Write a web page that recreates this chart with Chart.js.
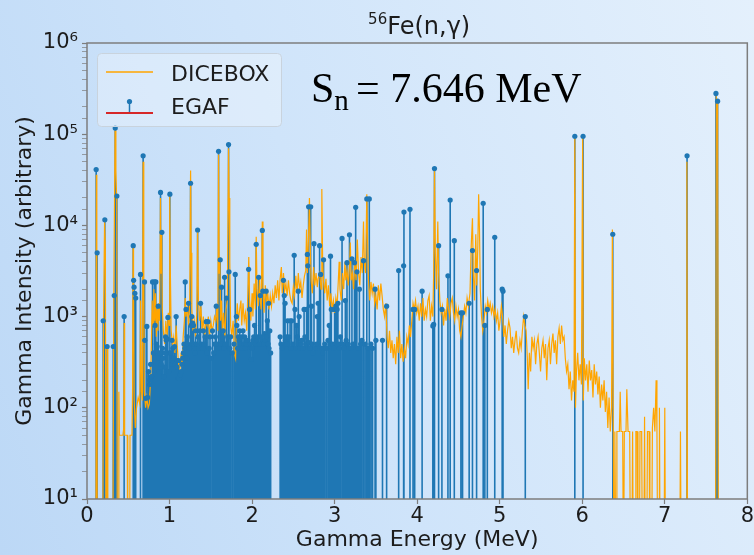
<!DOCTYPE html>
<html>
<head>
<meta charset="utf-8">
<script src="https://cdn.jsdelivr.net/npm/chart.js@4.4.1/dist/chart.umd.min.js"></script>
<style>
  html, body { margin: 0; padding: 0; }
  body {
    width: 754px; height: 555px; overflow: hidden;
    background: linear-gradient(70deg, #bcd8f6 0%, #cfe4fa 45%, #e4f0fc 100%);
  }
  #wrap { position: relative; width: 754px; height: 555px; }
</style>
</head>
<body>
<div id="wrap"><canvas id="chart" width="754" height="555"></canvas></div>
<script>
// --- Axis text ---
const xTickValues = [0, 1, 2, 3, 4, 5, 6, 7, 8];
const yTickLabels = ['10¹', '10²', '10³', '10⁴', '10⁵', '10⁶'];
const xAxisTitle = 'Gamma Energy (MeV)';
const yAxisTitle = 'Gamma Intensity (arbitrary)';
const seriesNames = ['DICEBOX', 'EGAF'];

// value used to send a line below the bottom of the log axis
const FLOOR = 1;

// --- DICEBOX spectrum [energy MeV, intensity] ---
const diceboxLow = [
  [0.090, 1], [0.108, 1], [0.113, 36000], [0.119, 4000], [0.125, 1],
  [0.190, 1], [0.200, 900], [0.213, 11000], [0.222, 6000], [0.232, 1],
  [0.240, 1], [0.246, 470], [0.252, 1],
  [0.312, 1], [0.325, 1800], [0.340, 110000], [0.350, 40000], [0.360, 19000], [0.368, 1],
  [0.380, 1], [0.386, 150], [0.392, 50], [0.435, 50], [0.445, 60], [0.450, 850], [0.456, 50],
  [0.488, 50], [0.494, 1], [0.515, 1], [0.521, 50], [0.545, 50], [0.552, 150], [0.558, 6000],
  [0.564, 2000], [0.572, 120], [0.585, 60],
];

const diceboxMid = [
  [0.600, 100], [0.620, 130], [0.640, 110], [0.650, 1500], [0.660, 150], [0.672, 120],
  [0.680, 50000], [0.688, 3000], [0.695, 150], [0.710, 100], [0.725, 130], [0.740, 100],
  [0.755, 110], [0.770, 200], [0.780, 500], [0.790, 1500], [0.800, 800], [0.810, 2000],
  [0.820, 900], [0.830, 1800], [0.840, 600], [0.850, 1200], [0.860, 700], [0.870, 1400],
  [0.880, 900], [0.890, 20000], [0.897, 3000], [0.905, 8000], [0.912, 1200], [0.925, 700],
  [0.940, 500], [0.955, 900], [0.970, 600], [0.985, 1100], [0.995, 800], [1.002, 21000],
  [1.010, 3000], [1.020, 700], [1.035, 500], [1.050, 600], [1.065, 400], [1.080, 800],
  [1.095, 450], [1.110, 300], [1.125, 260], [1.140, 400], [1.150, 280], [1.165, 600],
  [1.180, 900], [1.190, 1600], [1.200, 1000], [1.215, 1300], [1.230, 800], [1.245, 1500],
  [1.255, 40000], [1.262, 5000], [1.270, 1200], [1.285, 700], [1.300, 900], [1.315, 600],
  [1.330, 1100], [1.340, 9000], [1.350, 1500], [1.365, 900], [1.380, 1300], [1.395, 700],
  [1.410, 1000], [1.425, 600], [1.440, 900], [1.455, 800], [1.470, 1000], [1.485, 600],
  [1.500, 900], [1.515, 700], [1.530, 800], [1.545, 1000], [1.560, 900], [1.575, 1300],
  [1.585, 700], [1.594, 60000], [1.602, 3000], [1.610, 4500], [1.618, 900], [1.630, 1500],
  [1.640, 700], [1.655, 1100], [1.670, 600], [1.685, 1200], [1.700, 1500], [1.715, 70000],
  [1.722, 20000], [1.730, 4000], [1.740, 800], [1.755, 600], [1.770, 900], [1.785, 400],
  [1.800, 350], [1.810, 900], [1.820, 1400], [1.835, 900], [1.850, 1200], [1.865, 1500],
  [1.875, 800], [1.890, 1400], [1.905, 900], [1.920, 1100], [1.935, 700], [1.950, 2000],
  [1.960, 4500], [1.970, 1500], [1.985, 900], [2.000, 1800], [2.010, 1000], [2.025, 2300],
  [2.040, 1200], [2.050, 7500], [2.060, 2000], [2.075, 1300], [2.090, 2600], [2.100, 1500],
  [2.110, 1200], [2.124, 11000], [2.132, 2000], [2.145, 1100], [2.160, 2200], [2.175, 1400],
  [2.190, 1800], [2.205, 1200], [2.220, 1700], [2.235, 1300], [2.250, 1800], [2.265, 1400],
  [2.280, 2200], [2.295, 1600], [2.310, 2500], [2.325, 1500], [2.340, 2600], [2.355, 3500],
  [2.365, 1800], [2.380, 3000], [2.395, 1900], [2.410, 2300], [2.425, 1700], [2.440, 2500],
  [2.455, 1800], [2.470, 1500], [2.485, 1400], [2.500, 2100], [2.515, 1700], [2.530, 2800],
  [2.545, 1800], [2.560, 3000], [2.575, 2000], [2.590, 2400], [2.605, 1600], [2.620, 2200],
  [2.635, 2800], [2.650, 3200], [2.660, 9000], [2.670, 3000], [2.685, 8000], [2.695, 20000],
  [2.705, 6000], [2.715, 2500], [2.730, 1800], [2.745, 3500], [2.760, 2200], [2.775, 3000],
  [2.790, 2100], [2.800, 2600], [2.820, 3000], [2.835, 2000], [2.845, 25000], [2.855, 4000],
  [2.865, 2500], [2.880, 1800], [2.895, 2600], [2.910, 1500], [2.925, 2200], [2.940, 1300],
  [2.955, 1800], [2.970, 1200], [2.985, 1500], [3.000, 1100], [3.015, 1600], [3.030, 1300],
  [3.045, 2500], [3.055, 4000], [3.065, 2000], [3.080, 1500], [3.095, 3000], [3.110, 2000],
  [3.125, 4000], [3.135, 2500], [3.150, 3200], [3.165, 2200], [3.180, 3500], [3.190, 6500],
  [3.200, 2500], [3.215, 3000], [3.230, 2000], [3.245, 4000], [3.260, 2500], [3.275, 7000],
  [3.290, 3000], [3.305, 2200], [3.320, 4500], [3.335, 3000], [3.350, 11000], [3.360, 4000],
  [3.375, 3000], [3.390, 22000], [3.398, 8000], [3.410, 2500], [3.425, 1500], [3.440, 2400],
  [3.455, 1800], [3.470, 2300], [3.485, 1400], [3.500, 1700], [3.515, 1200], [3.530, 2200],
  [3.545, 1500], [3.560, 2300], [3.575, 1700], [3.590, 1200], [3.605, 1000], [3.620, 1400],
  [3.635, 600], [3.650, 450], [3.665, 700], [3.680, 400], [3.695, 550], [3.710, 350],
  [3.725, 500], [3.740, 300], [3.755, 600], [3.770, 400], [3.785, 700], [3.800, 350],
  [3.815, 500], [3.830, 320], [3.845, 450], [3.860, 350], [3.875, 600], [3.890, 500],
  [3.905, 800], [3.920, 600], [3.935, 900], [3.950, 1400], [3.965, 1200], [3.980, 1500],
  [3.995, 1100], [4.010, 1300], [4.025, 900], [4.040, 1400], [4.055, 1000], [4.070, 1600],
  [4.085, 900], [4.100, 1200], [4.115, 1000], [4.130, 1500], [4.145, 1700], [4.160, 900],
  [4.175, 1300], [4.190, 1000], [4.200, 3000], [4.210, 40000], [4.220, 5000], [4.235, 2000],
  [4.250, 11000], [4.260, 3000], [4.275, 1500], [4.290, 1100], [4.305, 1300], [4.320, 800],
  [4.335, 1200], [4.350, 900], [4.365, 1600], [4.380, 1200], [4.395, 1000], [4.410, 1400],
  [4.425, 1600], [4.440, 1100], [4.455, 900], [4.470, 1300], [4.485, 1000], [4.500, 1200],
  [4.515, 700], [4.530, 600], [4.545, 800], [4.560, 1000], [4.575, 1300], [4.590, 1100],
  [4.605, 1600], [4.620, 1300], [4.640, 1800], [4.655, 6000], [4.670, 12000], [4.680, 3000],
  [4.695, 1500], [4.710, 8000], [4.722, 2200], [4.735, 6000], [4.745, 22000], [4.755, 9000],
  [4.765, 2000], [4.780, 1000], [4.795, 700], [4.810, 900], [4.825, 1300], [4.840, 1100],
  [4.855, 1500], [4.870, 1200], [4.885, 1400], [4.900, 1100], [4.915, 1300], [4.930, 1000],
  [4.945, 1200], [4.960, 900], [4.975, 1100], [4.990, 700], [5.005, 900], [5.020, 1300],
  [5.035, 1000], [5.050, 600], [5.065, 800], [5.080, 500], [5.095, 700], [5.110, 900],
  [5.125, 750], [5.140, 450], [5.155, 600], [5.170, 400], [5.185, 550], [5.200, 700],
  [5.215, 450], [5.230, 400], [5.245, 550], [5.260, 450], [5.275, 700], [5.290, 1000],
  [5.305, 800],
];

const diceboxHigh = [
  [5.320, 700], [5.335, 350], [5.345, 160], [5.360, 400], [5.375, 250], [5.390, 600],
  [5.405, 450], [5.420, 550], [5.435, 300], [5.450, 500], [5.465, 600], [5.480, 400],
  [5.495, 250], [5.510, 450], [5.525, 550], [5.540, 350], [5.555, 500], [5.570, 200],
  [5.585, 450], [5.600, 550], [5.615, 300], [5.630, 500], [5.645, 650], [5.660, 400],
  [5.675, 550], [5.690, 300], [5.705, 600], [5.720, 750], [5.735, 500], [5.750, 800],
  [5.765, 550], [5.780, 600], [5.795, 350], [5.810, 250], [5.825, 300], [5.840, 160],
  [5.855, 250], [5.870, 120], [5.885, 200], [5.900, 150], [5.910, 90000], [5.918, 100],
  [5.930, 250], [5.945, 400], [5.960, 200], [5.975, 300], [5.990, 180], [6.005, 90000],
  [6.013, 120], [6.025, 350], [6.040, 200], [6.055, 300], [6.070, 150], [6.085, 330],
  [6.100, 200], [6.115, 260], [6.130, 130], [6.145, 300], [6.160, 180], [6.175, 250],
  [6.190, 140], [6.205, 220], [6.220, 100], [6.235, 180], [6.250, 120], [6.265, 200],
  [6.280, 90], [6.295, 150], [6.310, 60], [6.325, 130], [6.340, 55], [6.355, 100],
  [6.365, 9000], [6.375, 100], [6.385, 1], [6.395, 55], [6.410, 1], [6.420, 55],
  [6.450, 55], [6.460, 150], [6.470, 55], [6.490, 55], [6.500, 1], [6.510, 55],
  [6.530, 55], [6.540, 160], [6.555, 55], [6.575, 55], [6.585, 1], [6.600, 1],
  [6.610, 55], [6.620, 1], [6.640, 1], [6.650, 55], [6.665, 55], [6.675, 1],
  [6.690, 1], [6.700, 55], [6.720, 55], [6.730, 1], [6.745, 1], [6.755, 80],
  [6.765, 1], [6.780, 1], [6.790, 55], [6.810, 55], [6.820, 1], [6.840, 1],
  [6.850, 60], [6.865, 100], [6.880, 55], [6.895, 200], [6.905, 60], [6.915, 1],
  [6.930, 1], [6.935, 100], [6.945, 1], [6.990, 1], [7.000, 100], [7.010, 1],
  [7.180, 1], [7.190, 55], [7.200, 1], [7.260, 1], [7.268, 50000], [7.276, 1],
  [7.615, 1], [7.625, 250000], [7.640, 220000], [7.650, 1], [7.700, 1],
];

// --- EGAF lines [energy MeV, intensity] ---
const egafLines = [
  [0.111, 41000], [0.123, 5000], [0.196, 900], [0.216, 11500], [0.244, 470], [0.318, 470],
  [0.330, 1700], [0.342, 117000], [0.362, 21000], [0.450, 1000], [0.560, 6000], [0.565, 2500],
  [0.570, 2100], [0.580, 1800], [0.590, 1600], [0.648, 2900], [0.680, 58000], [0.697, 2400],
  [0.700, 550], [0.713, 127], [0.725, 780], [0.735, 130], [0.745, 250], [0.755, 180],
  [0.760, 200], [0.770, 300], [0.780, 220], [0.794, 2400], [0.805, 400], [0.818, 2400],
  [0.825, 800], [0.834, 2400], [0.840, 500], [0.850, 470], [0.863, 1300], [0.870, 350],
  [0.875, 250], [0.880, 400], [0.891, 23000], [0.900, 300], [0.907, 8400], [0.915, 450],
  [0.920, 350], [0.931, 220], [0.940, 280], [0.945, 400], [0.952, 600], [0.960, 550],
  [0.970, 570], [0.980, 980], [0.990, 250], [1.000, 400], [1.004, 22000], [1.015, 400],
  [1.025, 300], [1.030, 550], [1.040, 450], [1.050, 350], [1.060, 470], [1.070, 300],
  [1.080, 1000], [1.090, 280], [1.095, 330], [1.105, 210], [1.110, 330], [1.120, 210],
  [1.130, 230], [1.140, 250], [1.150, 300], [1.160, 350], [1.168, 400], [1.175, 500],
  [1.185, 450], [1.190, 2400], [1.200, 1200], [1.208, 350], [1.215, 600], [1.222, 500],
  [1.230, 1400], [1.240, 450], [1.255, 29000], [1.262, 800], [1.270, 1000], [1.280, 850],
  [1.290, 800], [1.300, 500], [1.308, 400], [1.315, 700], [1.325, 500], [1.340, 8900],
  [1.345, 600], [1.355, 450], [1.365, 700], [1.376, 1400], [1.390, 500], [1.400, 450],
  [1.410, 700], [1.420, 500], [1.430, 600], [1.445, 880], [1.455, 400], [1.465, 880],
  [1.480, 450], [1.490, 600], [1.500, 350], [1.520, 700], [1.535, 400], [1.545, 500],
  [1.555, 600], [1.566, 1300], [1.580, 500], [1.594, 65000], [1.605, 450], [1.614, 4200],
  [1.625, 500], [1.630, 2100], [1.640, 600], [1.650, 700], [1.660, 450], [1.667, 2700],
  [1.675, 500], [1.690, 1600], [1.705, 600], [1.715, 77000], [1.720, 3100], [1.730, 450],
  [1.740, 600], [1.760, 400], [1.780, 500], [1.796, 2900], [1.810, 1000], [1.815, 800],
  [1.825, 450], [1.835, 600], [1.845, 550], [1.850, 700], [1.860, 500], [1.870, 600],
  [1.880, 450], [1.890, 700], [1.900, 500], [1.910, 600], [1.920, 450], [1.930, 500],
  [1.940, 550], [1.958, 3300], [1.970, 1200], [1.980, 500], [1.990, 340], [2.000, 450],
  [2.010, 550], [2.020, 600], [2.030, 800], [2.040, 500], [2.050, 6200], [2.060, 550],
  [2.070, 600], [2.080, 2700], [2.090, 500], [2.100, 1700], [2.110, 600], [2.124, 8800],
  [2.130, 1900], [2.140, 500], [2.150, 650], [2.160, 550], [2.170, 1900], [2.175, 600],
  [2.185, 900], [2.195, 500], [2.200, 1400], [2.205, 450], [2.215, 700], [2.225, 400],
  [2.340, 600], [2.350, 500], [2.365, 450], [2.380, 2500], [2.390, 1700], [2.400, 1400],
  [2.405, 550], [2.415, 600], [2.425, 500], [2.430, 900], [2.445, 600], [2.460, 900],
  [2.470, 450], [2.480, 900], [2.495, 500], [2.510, 4700], [2.520, 1200], [2.530, 450],
  [2.540, 800], [2.550, 600], [2.560, 1900], [2.570, 1000], [2.580, 450], [2.590, 500],
  [2.600, 550], [2.615, 450], [2.630, 1200], [2.640, 600], [2.650, 500], [2.660, 1200],
  [2.670, 4800], [2.675, 3600], [2.685, 16000], [2.690, 520], [2.700, 450], [2.710, 16000],
  [2.720, 1300], [2.730, 500], [2.740, 400], [2.750, 6300], [2.765, 450], [2.780, 500],
  [2.790, 1000], [2.800, 1400], [2.818, 6000], [2.830, 2900], [2.845, 450], [2.855, 400],
  [2.866, 4200], [2.880, 500], [2.900, 450], [2.920, 550], [2.935, 800], [2.950, 4600],
  [2.960, 1200], [2.975, 500], [2.990, 450], [3.000, 1200], [3.015, 1300], [3.030, 1200],
  [3.040, 1400], [3.050, 500], [3.060, 450], [3.070, 600], [3.090, 7200], [3.100, 500],
  [3.115, 450], [3.130, 1500], [3.140, 550], [3.150, 3900], [3.165, 500], [3.180, 7900],
  [3.195, 450], [3.210, 4300], [3.225, 500], [3.240, 3900], [3.255, 15800], [3.270, 3100],
  [3.285, 450], [3.300, 2000], [3.315, 500], [3.330, 550], [3.350, 4100], [3.370, 500],
  [3.390, 19500], [3.405, 450], [3.420, 19500], [3.440, 500], [3.460, 450], [3.490, 2000],
  [3.500, 550], [3.580, 550], [3.630, 1300], [3.776, 3200], [3.836, 3600], [3.840, 14000],
  [3.913, 15000], [3.950, 1200], [3.970, 1200], [4.060, 1900], [4.190, 790], [4.200, 820],
  [4.210, 42000], [4.260, 6000], [4.300, 1200], [4.373, 2800], [4.400, 19000], [4.450, 6800],
  [4.530, 1100], [4.550, 1100], [4.630, 1400], [4.670, 5300], [4.720, 3200], [4.800, 17500],
  [4.820, 800], [4.850, 1200], [4.940, 7400], [5.030, 2000], [5.040, 1900], [5.310, 1000],
  [5.910, 95000], [6.010, 95000], [6.370, 8000], [7.270, 58000], [7.620, 280000], [7.640, 230000],
];

const ORANGE = '#ffa500';
const BLUE = '#1f77b4';
const RED = '#d62728';
const TEXT = '#1c1c1c';
const FRAME = '#7d7d7d';

// --- Build datasets ---
const diceboxPoints = [...diceboxLow, ...diceboxMid, ...diceboxHigh].map(([x, y]) => ({ x, y }));

const egafSorted = [...egafLines].sort((a, b) => a[0] - b[0]);
const stemPoints = [];
for (const [x, y] of egafSorted) {
  stemPoints.push({ x, y: FLOOR }, { x, y }, { x, y: null });
}
const markerPoints = egafSorted.map(([x, y]) => ({ x, y }));

function yTickLabel(v) {
  const e = Math.round(Math.log10(v));
  if (Math.abs(v - Math.pow(10, e)) > 1e-6 * v) return '';
  return yTickLabels[e - 1] || '';
}

// --- Frame, title, annotation and legend ---
const decor = {
  id: 'decor',
  afterDraw(chart) {
    const { ctx, chartArea: a } = chart;
    ctx.save();

    // axes frame
    ctx.strokeStyle = FRAME;
    ctx.lineWidth = 1.5;
    ctx.strokeRect(a.left, a.top, a.right - a.left, a.bottom - a.top);

    // title: 56Fe(n,γ)
    ctx.fillStyle = TEXT;
    ctx.textBaseline = 'alphabetic';
    ctx.textAlign = 'left';
    const cx = (a.left + a.right) / 2 + 2;
    ctx.font = '15px "DejaVu Sans"';
    const supW = ctx.measureText('56').width;
    ctx.font = '24px "DejaVu Sans"';
    const mainW = ctx.measureText('Fe(n,γ)').width;
    const tx = cx - (supW + mainW) / 2;
    ctx.fillText('Fe(n,γ)', tx + supW, 34);
    ctx.font = '15px "DejaVu Sans"';
    ctx.fillText('56', tx, 24);

    // S_n = 7.646 MeV
    ctx.fillStyle = '#000';
    ctx.font = '42px "Liberation Serif"';
    ctx.fillText('S', 311, 102);
    const sW = ctx.measureText('S').width;
    ctx.font = '29px "Liberation Serif"';
    ctx.fillText('n', 311 + sW, 110);
    ctx.font = '42px "Liberation Serif"';
    ctx.fillText('= 7.646 MeV', 356, 102);

    // legend box
    ctx.beginPath();
    ctx.roundRect(97.5, 53.5, 184, 73, 4);
    ctx.fillStyle = 'rgba(255,255,255,0.3)';
    ctx.fill();
    ctx.strokeStyle = '#c9d3dd';
    ctx.lineWidth = 1;
    ctx.stroke();

    // DICEBOX entry
    ctx.strokeStyle = ORANGE;
    ctx.lineWidth = 1.5;
    ctx.beginPath();
    ctx.moveTo(106, 72);
    ctx.lineTo(153, 72);
    ctx.stroke();

    // EGAF entry (stem with baseline)
    ctx.strokeStyle = RED;
    ctx.lineWidth = 2;
    ctx.beginPath();
    ctx.moveTo(106, 113);
    ctx.lineTo(153, 113);
    ctx.stroke();
    ctx.strokeStyle = BLUE;
    ctx.lineWidth = 1.5;
    ctx.beginPath();
    ctx.moveTo(129.5, 112);
    ctx.lineTo(129.5, 102);
    ctx.stroke();
    ctx.fillStyle = BLUE;
    ctx.beginPath();
    ctx.arc(129.5, 101.5, 2.6, 0, Math.PI * 2);
    ctx.fill();

    ctx.fillStyle = TEXT;
    ctx.font = '22px "DejaVu Sans"';
    ctx.fillText(seriesNames[0], 171, 81);
    ctx.fillText(seriesNames[1], 171, 114);

    ctx.restore();
  },
};

new Chart(document.getElementById('chart'), {
  type: 'line',
  data: {
    datasets: [
      {
        label: seriesNames[1] + ' markers',
        data: markerPoints,
        showLine: false,
        pointRadius: 2.6,
        pointBackgroundColor: BLUE,
        pointBorderWidth: 0,
        order: 0,
      },
      {
        label: seriesNames[0],
        data: diceboxPoints,
        borderColor: ORANGE,
        borderWidth: 1.2,
        pointRadius: 0,
        tension: 0,
        order: 1,
      },
      {
        label: seriesNames[1],
        data: stemPoints,
        borderColor: BLUE,
        borderWidth: 1.6,
        pointRadius: 0,
        spanGaps: false,
        order: 2,
      },
    ],
  },
  options: {
    responsive: false,
    animation: false,
    devicePixelRatio: 1,
    layout: { padding: { top: 43, right: 6, left: 0, bottom: 0 } },
    plugins: {
      legend: { display: false },
      title: { display: false },
      tooltip: { enabled: false },
    },
    scales: {
      x: {
        type: 'linear',
        min: 0,
        max: 8,
        afterBuildTicks: (axis) => { axis.ticks = xTickValues.map(v => ({ value: v })); },
        ticks: {
          color: TEXT,
          font: { family: 'DejaVu Sans', size: 21 },
          padding: 0,
          maxRotation: 0,
          autoSkip: false,
        },
        grid: { drawOnChartArea: false, drawTicks: true, tickLength: 5, color: FRAME, tickWidth: 1.2 },
        border: { display: false },
        title: {
          display: true,
          text: xAxisTitle,
          color: TEXT,
          font: { family: 'DejaVu Sans', size: 22 },
          padding: { top: 0, bottom: 2 },
        },
        afterFit: (s) => { s.height = 56; },
      },
      y: {
        type: 'logarithmic',
        min: 10,
        max: 1e6,
        ticks: {
          autoSkip: false,
          color: TEXT,
          font: { family: 'DejaVu Sans', size: 21 },
          padding: 4,
          callback: (v) => yTickLabel(v),
        },
        grid: {
          drawOnChartArea: false,
          drawTicks: true,
          tickLength: 5,
          color: FRAME,
          tickWidth: (c) => (c.tick && c.tick.major ? 1.2 : 0.7),
        },
        border: { display: false },
        title: {
          display: true,
          text: yAxisTitle,
          color: TEXT,
          font: { family: 'DejaVu Sans', size: 22 },
          padding: { top: 12, bottom: 0 },
        },
        afterFit: (s) => { s.width = 87; },
      },
    },
  },
  plugins: [decor],
});
</script>
</body>
</html>
